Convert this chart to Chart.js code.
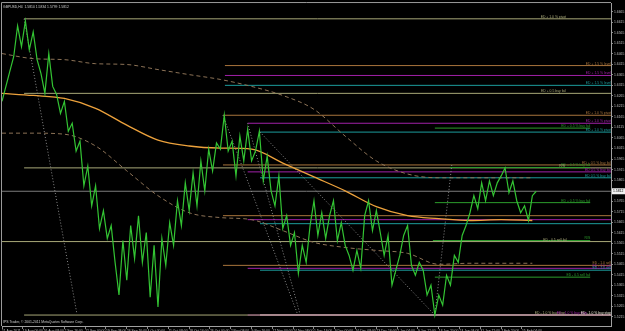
<!DOCTYPE html>
<html>
<head>
<meta charset="utf-8">
<script src="https://cdn.jsdelivr.net/npm/chart.js@4.4.1/dist/chart.umd.min.js"></script>
<style>
  html, body { margin: 0; padding: 0; background: #000; }
  canvas { display: block; }
</style>
</head>
<body>
<canvas id="gbpChart" width="625" height="331"></canvas>
<script>
/**************************************************
 * DATA
 **************************************************/
const headerText = "GBPUSD,H4  1.5810 1.5834 1.5799 1.5812";
const footerText = "IPS Trader, \u00a9 2001-2011 MetaQuotes Software Corp.";
const bidPrice = 1.5812;

// time axis labels, one every 32 H4 bars
const dateLabels = [
  "11 Aug 2011", "19 Aug 00:00", "26 Aug 08:00", "2 Sep 16:00", "12 Sep 00:00",
  "19 Sep 08:00", "26 Sep 16:00", "4 Oct 00:00", "11 Oct 08:00", "18 Oct 16:00",
  "26 Oct 00:00", "2 Nov 08:00", "9 Nov 16:00", "17 Nov 00:00", "24 Nov 08:00",
  "1 Dec 16:00", "9 Dec 00:00", "16 Dec 08:00", "23 Dec 16:00", "2 Jan 04:00",
  "9 Jan 12:00", "16 Jan 20:00", "24 Jan 04:00", "31 Jan 12:00", "7 Feb 20:00",
  "15 Feb 04:00"
];
const barsPerLabel = 32;

// price axis labels
const yTickValues = [
  1.5215, 1.5265, 1.5315, 1.5365, 1.5415, 1.5465, 1.5515, 1.5565, 1.5615, 1.5665,
  1.5715, 1.5765, 1.5815, 1.5865, 1.5915, 1.5965, 1.6015, 1.6065, 1.6115, 1.6165,
  1.6215, 1.6265, 1.6315, 1.6365, 1.6415, 1.6465, 1.6515, 1.6565, 1.6615, 1.6665
];

// price path, one reading every 6 bars
const priceStep = 6;
const priceClose = [
  1.6239, 1.6310, 1.6381, 1.6451, 1.6598, 1.6499, 1.6621, 1.6484, 1.6569, 1.6437,
  1.6371, 1.6277, 1.6466, 1.6310, 1.6272, 1.6182, 1.6239, 1.6097, 1.6135, 1.6003,
  1.6050, 1.5838, 1.5932, 1.5743, 1.5838, 1.5635, 1.5720, 1.5588, 1.5649, 1.5474,
  1.5319, 1.5578, 1.5389, 1.5649, 1.5493, 1.5696, 1.5474, 1.5616, 1.5309, 1.5555,
  1.5262, 1.5588, 1.5460, 1.5663, 1.5555, 1.5767, 1.5649, 1.5852, 1.5720, 1.5899,
  1.5743, 1.5956, 1.5814, 1.6012, 1.5909, 1.6041, 1.6012, 1.6173, 1.6003, 1.6050,
  1.5885, 1.6074, 1.5956, 1.6107, 1.5956, 1.6003, 1.6097, 1.5861, 1.5979, 1.5814,
  1.5743, 1.5885, 1.5635, 1.5696, 1.5555, 1.5616, 1.5422, 1.5555, 1.5474, 1.5649,
  1.5767, 1.5602, 1.5710, 1.5588, 1.5696, 1.5767, 1.5578, 1.5663, 1.5555, 1.5507,
  1.5437, 1.5531, 1.5446, 1.5696, 1.5767, 1.5625, 1.5720, 1.5616, 1.5507, 1.5602,
  1.5366, 1.5437, 1.5507, 1.5602, 1.5649, 1.5460, 1.5413, 1.5474, 1.5437, 1.5319,
  1.5366, 1.5224, 1.5319, 1.5271, 1.5413, 1.5366, 1.5507, 1.5474, 1.5602, 1.5649,
  1.5710, 1.5791, 1.5729, 1.5852, 1.5767, 1.5861, 1.5791, 1.5852, 1.5885, 1.5923,
  1.5805, 1.5861, 1.5767, 1.5710, 1.5743, 1.5673, 1.5791, 1.5812
];

// moving average and its envelope
const maBars = [0, 48, 96, 144, 192, 240, 288, 336, 384, 432, 480, 528, 576, 624, 672, 720, 768, 816];
const maValues = [1.6277, 1.6267, 1.6253, 1.6206, 1.6126, 1.6055, 1.6027, 1.6017, 1.6012,
                  1.5946, 1.5880, 1.5814, 1.5739, 1.5696, 1.5682, 1.5673, 1.5677, 1.5673];
const envUpper = [1.6466, 1.6442, 1.6437, 1.6418, 1.6414, 1.6390, 1.6366, 1.6343, 1.6310,
                  1.6267, 1.6201, 1.6074, 1.5956, 1.5894, 1.5876, 1.5876, 1.5876, 1.5876];
const envLower = [1.6088, 1.6088, 1.6083, 1.6027, 1.5909, 1.5791, 1.5710, 1.5687, 1.5677,
                  1.5625, 1.5569, 1.5545, 1.5531, 1.5517, 1.5465, 1.5470, 1.5470, 1.5470];

// horizontal levels
const levelPrice = [1.6631, 1.6409, 1.6362, 1.6315, 1.6277, 1.6173, 1.6135, 1.6112, 1.6093,
                    1.5937, 1.5925, 1.5923, 1.5904, 1.5876, 1.5812, 1.5758, 1.5696, 1.5677,
                    1.5658, 1.5573, 1.5578, 1.5460, 1.5446, 1.5437, 1.5404, 1.5224, 1.5224,
                    1.5224];
const levelStart = [34, 343, 343, 343, 34, 340, 378, 666, 397,
                    340, 689, 34, 378, 397, 0, 666, 340, 378,
                    397, 0, 663, 340, 378, 397, 666, 34, 378,
                    397];
const levelEnd = [937, 937, 937, 937, 937, 937, 937, 905, 937,
                  937, 905, 937, 937, 937, 937, 905, 937, 937,
                  937, 937, 905, 937, 937, 937, 905, 937, 937,
                  937];
const levelText = [
  "ED + 1.0 % pivot", "ED + 1.5 % level", "ED + 1.5 % level", "ED + 1.5 % level",
  "ED + 0.5 buy fail", "ED + 1.0 % pivot", "ED + 1.0 % pivot", "ED + 0.5 % buy fail",
  "ED + 1.0 % pivot", "ED + 0.5 % buy fail", "ED + 0.5 % buy fail", "R/S",
  "ED 0.5 % buy fail", "ED 0.5 % buy fail", "", "ED + 0.5 % buy fail", "", "",
  "", "ED - 0.5 sell fail", "R/S", "ED - 1.0 sell", "ED - 1.0 sell", "ED - 1.0 sell",
  "ED - 0.5 sell fail", "ED - 1.0 % buy stop", "ED - 1.0 % buy stop", "ED - 1.0 % buy stop"
];

// dotted trend lines
const trendFromBar = [34, 340, 378, 397, 666];
const trendFromPrice = [1.6631, 1.6173, 1.6135, 1.6093, 1.5224];
const trendToBar = [115, 454, 458, 666, 692];
const trendToPrice = [1.5234, 1.5234, 1.5234, 1.5224, 1.5937];

/**************************************************
 * STYLE
 **************************************************/
const FONT = '"Liberation Sans", "DejaVu Sans", sans-serif';
const TXT = 3.4;
const C = {
  khaki: "#a8a878", brown: "#a8743c", magenta: "#a020a8", teal: "#1c9c9c",
  green: "#2c9c2c", gray: "#7c7c7c", white: "#e6e6d2"
};
const levelColor = [
  C.khaki, C.brown, C.magenta, C.teal, C.khaki, C.brown, C.magenta, C.green, C.teal,
  C.brown, C.green, C.khaki, C.magenta, C.teal, C.gray, C.green, C.brown, C.magenta,
  C.teal, C.khaki, C.green, C.brown, C.magenta, C.teal, C.green, C.khaki, C.magenta,
  C.white
];
// distance (px) between line end and label end
const labelInset = [
  45, 0, 0, 0, 45, 0, 0, 0, 0,
  0, 0, 46, 0, 0, 0, 0, 0, 0,
  0, 44, 0, 0, 0, 0, 0, 46, 24,
  0
];

/**************************************************
 * DATASETS
 **************************************************/
const datasets = [];

datasets.push({
  data: priceClose.map((v, i) => ({ x: i * priceStep, y: v })),
  borderColor: "#33c433", borderWidth: 1.2
});
datasets.push({
  data: maValues.map((v, i) => ({ x: maBars[i], y: v })),
  borderColor: "#eda23c", borderWidth: 1.3, cubicInterpolationMode: "monotone"
});
datasets.push({
  data: envUpper.map((v, i) => ({ x: maBars[i], y: v })),
  borderColor: "#8c7256", borderWidth: 1, borderDash: [4, 3], cubicInterpolationMode: "monotone"
});
datasets.push({
  data: envLower.map((v, i) => ({ x: maBars[i], y: v })),
  borderColor: "#8c7256", borderWidth: 1, borderDash: [4, 3], cubicInterpolationMode: "monotone"
});
trendFromBar.forEach((b, i) => {
  datasets.push({
    data: [{ x: b, y: trendFromPrice[i] }, { x: trendToBar[i], y: trendToPrice[i] }],
    borderColor: "#8a8a8a", borderWidth: 1, borderDash: [1, 2]
  });
});
levelPrice.forEach((p, i) => {
  datasets.push({
    data: [{ x: levelStart[i], y: p }, { x: levelEnd[i], y: p }],
    borderColor: levelColor[i],
    borderWidth: levelColor[i] === C.white ? 1.5 : 1
  });
});
datasets.forEach(d => { d.showLine = true; d.pointRadius = 0; d.fill = false; });

/**************************************************
 * PLUGINS
 **************************************************/
const blackBackground = {
  id: "blackBackground",
  beforeDraw(chart) {
    const c = chart.ctx;
    c.save();
    c.fillStyle = "#000";
    c.fillRect(0, 0, chart.width, chart.height);
    c.restore();
  }
};

const overlayText = {
  id: "overlayText",
  afterDatasetsDraw(chart) {
    const c = chart.ctx;
    const xs = chart.scales.x, ys = chart.scales.y;
    const a = chart.chartArea;
    c.save();
    c.font = TXT + "px " + FONT;
    c.textAlign = "right";
    c.textBaseline = "bottom";
    levelText.forEach((t, i) => {
      if (!t) return;
      c.fillStyle = levelColor[i];
      c.fillText(t, xs.getPixelForValue(levelEnd[i]) - labelInset[i], ys.getPixelForValue(levelPrice[i]) - 0.3);
    });

    // frame
    c.strokeStyle = "#9a9a9a";
    c.lineWidth = 1;
    c.beginPath();
    c.moveTo(a.left - 0.5, a.bottom);
    c.lineTo(a.left - 0.5, a.top - 0.5);
    c.lineTo(a.right, a.top - 0.5);
    c.stroke();

    // header and footer
    c.textAlign = "left";
    c.textBaseline = "middle";
    c.fillStyle = "#cfcfcf";
    c.fillText(headerText, a.left + 1, a.top + 4);
    c.fillText(footerText, a.left + 1, a.bottom - 4);

    // bid box on the price axis
    const by = ys.getPixelForValue(bidPrice);
    c.fillStyle = "#f2f2f2";
    c.fillRect(a.right + 1, by - 3, chart.width - a.right - 1, 6);
    c.fillStyle = "#000";
    c.fillText(bidPrice.toFixed(4), a.right + 2, by);
    c.restore();
  }
};

/**************************************************
 * CHART
 **************************************************/
const ctx = document.getElementById("gbpChart").getContext("2d");

new Chart(ctx, {
  type: "scatter",
  data: { datasets },
  options: {
    responsive: false,
    animation: false,
    devicePixelRatio: 1,
    layout: { padding: { left: 2, top: 1, right: 0, bottom: 0 } },
    plugins: { legend: { display: false }, tooltip: { enabled: false } },
    elements: { line: { tension: 0 } },
    scales: {
      x: {
        type: "linear",
        min: 0,
        max: 937,
        afterFit(s) { s.height = 5; },
        afterBuildTicks(s) { s.ticks = dateLabels.map((_, i) => ({ value: i * barsPerLabel })); },
        ticks: {
          autoSkip: false, maxRotation: 0, align: "start", padding: 0,
          color: "#bdbdbd", font: { family: FONT, size: TXT },
          callback: (v, i) => dateLabels[i]
        },
        grid: { drawOnChartArea: false, tickLength: 3, color: "#8a8a8a" },
        border: { color: "#a0a0a0" }
      },
      y: {
        position: "right",
        min: 1.5172,
        max: 1.6706,
        afterFit(s) { s.width = 14; },
        afterBuildTicks(s) { s.ticks = yTickValues.map(v => ({ value: v })); },
        ticks: {
          autoSkip: false, padding: 1,
          color: "#bdbdbd", font: { family: FONT, size: TXT },
          callback: v => v.toFixed(4)
        },
        grid: { drawOnChartArea: false, tickLength: 2, color: "#8a8a8a" },
        border: { color: "#a0a0a0" }
      }
    }
  },
  plugins: [blackBackground, overlayText]
});
</script>
</body>
</html>
